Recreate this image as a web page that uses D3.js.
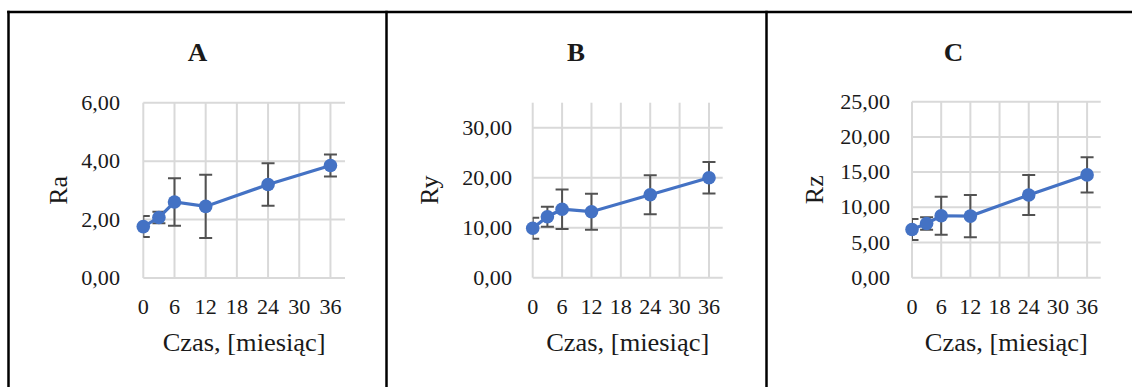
<!DOCTYPE html>
<html>
<head>
<meta charset="utf-8">
<script src="https://cdn.jsdelivr.net/npm/d3@7"></script>
<style>
  html, body { margin: 0; padding: 0; background: #fff; }
  svg { display: block; }
  text { font-family: "Liberation Serif", "Times New Roman", serif; fill: #1a1a1a; }
</style>
</head>
<body>
<svg id="chart" width="1132" height="387"></svg>
<script>
// Measurement months
const months = [0, 3, 6, 12, 24, 36];
const monthTicks = [0, 6, 12, 18, 24, 30, 36];

// Roughness parameters: means and standard deviations
const raMean = [1.76, 2.07, 2.60, 2.45, 3.20, 3.85];
const raErr  = [0.36, 0.20, 0.81, 1.08, 0.73, 0.38];
const ryMean = [9.9, 12.2, 13.7, 13.2, 16.6, 20.0];
const ryErr  = [2.1, 2.0, 3.95, 3.6, 3.9, 3.15];
const rzMean = [6.85, 7.7, 8.8, 8.75, 11.75, 14.6];
const rzErr  = [1.5, 0.9, 2.7, 3.0, 2.85, 2.5];

const panelTitles = ["A", "B", "C"];
const yTitles = ["Ra", "Ry", "Rz"];
const yTicksA = [0, 2, 4, 6];
const yTicksB = [0, 10, 20, 30];
const yTicksC = [0, 5, 10, 15, 20, 25];
const xTitle = "Czas, [miesiąc]";

const svg = d3.select("#chart");
const fmt = v => d3.format(".2f")(v).replace(".", ",");

// Panel frames (table-like cells)
const cellEdges = [8.5, 386.5, 766.5];
svg.append("line").attr("x1", 7.2).attr("x2", 1132).attr("y1", 12).attr("y2", 12)
  .attr("stroke", "#000").attr("stroke-width", 2.5);
cellEdges.forEach(x => {
  svg.append("line").attr("x1", x).attr("x2", x).attr("y1", 10.8).attr("y2", 387)
    .attr("stroke", "#000").attr("stroke-width", 2.5);
});

const panels = [
  { title: panelTitles[0], yTitle: yTitles[0], mean: raMean, err: raErr, yMax: 6, yTicks: yTicksA,
    left: 143.3, right: 345, top: 102.7, bottom: 278, titleX: 197.5, yLabelX: 120, yTitleX: 66.5 },
  { title: panelTitles[1], yTitle: yTitles[1], mean: ryMean, err: ryErr, yMax: 35, yTicks: yTicksB,
    left: 532.7, right: 722.7, top: 102.7, bottom: 277.7, titleX: 576, yLabelX: 512, yTitleX: 437.5 },
  { title: panelTitles[2], yTitle: yTitles[2], mean: rzMean, err: rzErr, yMax: 25, yTicks: yTicksC,
    left: 912, right: 1100.7, top: 101.7, bottom: 277.7, titleX: 953.5, yLabelX: 890, yTitleX: 822.5 }
];

const xMax = 38.8;
const grid = "#d9d9d9";
const blue = "#4472c4";
const errColor = "#525252";
const sx = 1.08; // horizontal stretch of text

panels.forEach((p, i) => {
  const x = d3.scaleLinear().domain([0, xMax]).range([p.left, p.right]);
  const y = d3.scaleLinear().domain([0, p.yMax]).range([p.bottom, p.top]);
  const g = svg.append("g");

  // title
  g.append("text")
    .attr("transform", `translate(${p.titleX},61) scale(${sx},1)`)
    .attr("text-anchor", "middle").attr("font-size", 25).attr("font-weight", "bold")
    .text(p.title);

  // gridlines
  g.selectAll("line.vg").data(monthTicks).join("line")
    .attr("x1", d => x(d)).attr("x2", d => x(d))
    .attr("y1", p.top).attr("y2", p.bottom)
    .attr("stroke", grid).attr("stroke-width", 2);
  g.selectAll("line.hg").data(p.yTicks).join("line")
    .attr("x1", p.left).attr("x2", p.right)
    .attr("y1", d => y(d)).attr("y2", d => y(d))
    .attr("stroke", grid).attr("stroke-width", 2);

  // tick labels
  g.selectAll("text.yl").data(p.yTicks).join("text")
    .attr("transform", d => `translate(${p.yLabelX},${y(d) + 7}) scale(${sx},1)`)
    .attr("text-anchor", "end").attr("font-size", 20.5)
    .text(fmt);
  g.selectAll("text.xl").data(monthTicks).join("text")
    .attr("transform", d => `translate(${x(d)},314.3) scale(${sx},1)`)
    .attr("text-anchor", "middle").attr("font-size", 20.5)
    .text(d => d);

  // axis titles
  g.append("text")
    .attr("transform", `translate(${(p.left + p.right) / 2},351) scale(${sx},1)`)
    .attr("text-anchor", "middle").attr("font-size", 24.5)
    .text(xTitle);
  g.append("text")
    .attr("transform", `translate(${p.yTitleX},${(p.top + p.bottom) / 2}) rotate(-90)`)
    .attr("text-anchor", "middle").attr("font-size", 26)
    .text(p.yTitle);

  // error bars, clipped to plot area
  const clipId = "clip" + i;
  svg.append("clipPath").attr("id", clipId).append("rect")
    .attr("x", p.left).attr("y", p.top - 20).attr("width", p.right - p.left).attr("height", p.bottom - p.top + 20);
  const pts = months.map((m, k) => ({ m, v: p.mean[k], e: p.err[k] }));
  const eb = g.append("g").attr("clip-path", `url(#${clipId})`)
    .attr("stroke", errColor).attr("stroke-width", 2);
  const cap = 6.5;
  pts.forEach(d => {
    eb.append("line").attr("x1", x(d.m)).attr("x2", x(d.m)).attr("y1", y(d.v - d.e)).attr("y2", y(d.v + d.e));
    eb.append("line").attr("x1", x(d.m) - cap).attr("x2", x(d.m) + cap).attr("y1", y(d.v - d.e)).attr("y2", y(d.v - d.e));
    eb.append("line").attr("x1", x(d.m) - cap).attr("x2", x(d.m) + cap).attr("y1", y(d.v + d.e)).attr("y2", y(d.v + d.e));
  });

  // series line and markers
  g.append("path").datum(pts)
    .attr("fill", "none").attr("stroke", blue).attr("stroke-width", 3.2)
    .attr("d", d3.line().x(d => x(d.m)).y(d => y(d.v)));
  g.selectAll("circle").data(pts).join("circle")
    .attr("cx", d => x(d.m)).attr("cy", d => y(d.v)).attr("r", 6.8)
    .attr("fill", blue);
});
</script>
</body>
</html>
